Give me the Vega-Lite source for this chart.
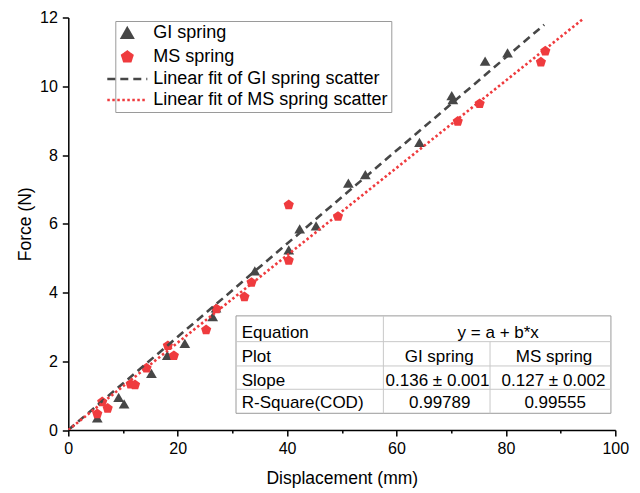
{
  "$schema": "https://vega.github.io/schema/vega-lite/v6.json",
  "width": 547,
  "height": 412.5,
  "autosize": {"type": "none"},
  "padding": {"left": 68.3, "top": 17.5, "right": 24.7, "bottom": 63},
  "config": {
    "font": "Liberation Sans",
    "view": {"stroke": null},
    "axis": {
      "grid": false,
      "domainColor": "black",
      "domainWidth": 1.5,
      "tickColor": "black",
      "tickWidth": 1.5,
      "labelColor": "black",
      "titleColor": "black",
      "labelFont": "Liberation Sans",
      "titleFont": "Liberation Sans",
      "labelFontSize": 16,
      "titleFontSize": 17.5,
      "titleFontWeight": "normal",
      "labelFlush": false
    },
    "text": {"font": "Liberation Sans", "fontSize": 17, "fill": "black"}
  },
  "datasets": {
    "points": [
      {"series": "GI spring", "disp": 5.3, "force": 0.35},
      {"series": "GI spring", "disp": 9.2, "force": 0.95},
      {"series": "GI spring", "disp": 10.2, "force": 0.76},
      {"series": "GI spring", "disp": 15.2, "force": 1.65},
      {"series": "GI spring", "disp": 18.1, "force": 2.17},
      {"series": "GI spring", "disp": 21.3, "force": 2.52},
      {"series": "GI spring", "disp": 26.4, "force": 3.3},
      {"series": "GI spring", "disp": 27.0, "force": 3.55},
      {"series": "GI spring", "disp": 34.1, "force": 4.63},
      {"series": "GI spring", "disp": 40.3, "force": 5.24},
      {"series": "GI spring", "disp": 42.3, "force": 5.85},
      {"series": "GI spring", "disp": 45.3, "force": 5.94},
      {"series": "GI spring", "disp": 51.2, "force": 7.18},
      {"series": "GI spring", "disp": 54.3, "force": 7.43},
      {"series": "GI spring", "disp": 64.2, "force": 8.37},
      {"series": "GI spring", "disp": 70.1, "force": 9.73},
      {"series": "GI spring", "disp": 70.3, "force": 9.61},
      {"series": "GI spring", "disp": 76.2, "force": 10.73},
      {"series": "GI spring", "disp": 80.3, "force": 10.97},
      {"series": "MS spring", "disp": 5.3, "force": 0.47},
      {"series": "MS spring", "disp": 6.2, "force": 0.82},
      {"series": "MS spring", "disp": 7.2, "force": 0.63},
      {"series": "MS spring", "disp": 11.4, "force": 1.33},
      {"series": "MS spring", "disp": 12.2, "force": 1.31},
      {"series": "MS spring", "disp": 14.3, "force": 1.8},
      {"series": "MS spring", "disp": 18.2, "force": 2.45},
      {"series": "MS spring", "disp": 19.3, "force": 2.16},
      {"series": "MS spring", "disp": 25.2, "force": 2.91},
      {"series": "MS spring", "disp": 27.1, "force": 3.52},
      {"series": "MS spring", "disp": 32.2, "force": 3.87},
      {"series": "MS spring", "disp": 33.5, "force": 4.29},
      {"series": "MS spring", "disp": 40.3, "force": 6.55},
      {"series": "MS spring", "disp": 40.3, "force": 4.93},
      {"series": "MS spring", "disp": 49.3, "force": 6.21},
      {"series": "MS spring", "disp": 71.2, "force": 8.98},
      {"series": "MS spring", "disp": 75.2, "force": 9.49},
      {"series": "MS spring", "disp": 86.4, "force": 10.7},
      {"series": "MS spring", "disp": 87.2, "force": 11.02}
    ],
    "fits": [
      {"series": "Linear fit of GI spring scatter", "disp": 0, "force": 0},
      {"series": "Linear fit of GI spring scatter", "disp": 87.0, "force": 11.79},
      {"series": "Linear fit of MS spring scatter", "disp": 0, "force": 0},
      {"series": "Linear fit of MS spring scatter", "disp": 94.2, "force": 11.97}
    ]
  },
  "layer": [
    {
      "data": {"name": "points"},
      "mark": {"type": "point", "filled": true, "opacity": 1, "size": 115},
      "encoding": {
        "x": {
          "field": "disp", "type": "quantitative",
          "scale": {"domain": [0, 100], "nice": false},
          "axis": {
            "title": "Displacement (mm)",
            "values": [0, 10, 20, 30, 40, 50, 60, 70, 80, 90, 100],
            "labelExpr": "datum.value % 20 === 0 ? datum.label : ''",
            "tickSize": {"condition": {"test": "datum.value % 20 === 0", "value": 6}, "value": 3},
            "labelPadding": 4,
            "titlePadding": 13
          }
        },
        "y": {
          "field": "force", "type": "quantitative",
          "scale": {"domain": [0, 12], "nice": false},
          "axis": {
            "title": "Force (N)",
            "values": [0, 1, 2, 3, 4, 5, 6, 7, 8, 9, 10, 11, 12],
            "labelExpr": "datum.value % 2 === 0 ? datum.label : ''",
            "tickSize": {"condition": {"test": "datum.value % 2 === 0", "value": 6}, "value": 3},
            "labelPadding": 5,
            "titlePadding": 5
          }
        },
        "color": {
          "field": "series", "type": "nominal",
          "scale": {
            "domain": ["GI spring", "MS spring", "Linear fit of GI spring scatter", "Linear fit of MS spring scatter"],
            "range": ["#474747", "#ef3b3e", "#474747", "#ef3b3e"]
          },
          "legend": {
            "orient": "none", "legendX": 47, "legendY": 3.5,
            "title": null,
            "labelFontSize": 18, "labelFont": "Liberation Sans", "labelColor": "black",
            "labelLimit": 500,
            "strokeColor": "#9a9a9a", "fillColor": "white",
            "padding": 3, "rowPadding": 3, "labelOffset": 17,
            "symbolSize": 1600,
            "symbolStrokeWidth": 2.5, "symbolOpacity": 1,
            "encode": {
              "symbols": {
                "update": {
                  "size": {"signal": "datum.value === 'Linear fit of GI spring scatter' || datum.value === 'Linear fit of MS spring scatter' ? 1600 : 115"}
                }
              }
            }
          }
        },
        "shape": {
          "field": "series", "type": "nominal",
          "scale": {
            "domain": ["GI spring", "MS spring", "Linear fit of GI spring scatter", "Linear fit of MS spring scatter"],
            "range": ["triangle-up", "M0,-1L0.951,-0.309L0.588,0.809L-0.588,0.809L-0.951,-0.309Z", "stroke", "stroke"]
          }
        }
      }
    },
    {
      "data": {"name": "fits"},
      "mark": {"type": "line", "strokeWidth": 2.6, "clip": true},
      "encoding": {
        "x": {"field": "disp", "type": "quantitative"},
        "y": {"field": "force", "type": "quantitative"},
        "color": {"field": "series", "type": "nominal"},
        "strokeDash": {
          "field": "series", "type": "nominal",
          "scale": {
            "domain": ["GI spring", "MS spring", "Linear fit of GI spring scatter", "Linear fit of MS spring scatter"],
            "range": [[1, 0], [1, 0], [8, 5], [2.5, 2.5]]
          }
        }
      }
    },
    {
      "data": {"values": [{}]},
      "mark": {"type": "rect", "fill": "white", "stroke": "#9a9a9a", "strokeWidth": 1},
      "encoding": {"x": {"datum": 30.66}, "x2": {"datum": 99.2}, "y": {"datum": 3.32}, "y2": {"datum": 0.486}}
    },
    {
      "data": {"values": [{}]},
      "mark": {"type": "rule", "stroke": "#c8c8c8", "strokeWidth": 1},
      "encoding": {"x": {"datum": 30.66}, "x2": {"datum": 99.2}, "y": {"datum": 2.57}}
    },
    {
      "data": {"values": [{}]},
      "mark": {"type": "rule", "stroke": "#c8c8c8", "strokeWidth": 1},
      "encoding": {"x": {"datum": 30.66}, "x2": {"datum": 99.2}, "y": {"datum": 1.863}}
    },
    {
      "data": {"values": [{}]},
      "mark": {"type": "rule", "stroke": "#c8c8c8", "strokeWidth": 1},
      "encoding": {"x": {"datum": 30.66}, "x2": {"datum": 99.2}, "y": {"datum": 1.185}}
    },
    {
      "data": {"values": [{}]},
      "mark": {"type": "rule", "stroke": "#c8c8c8", "strokeWidth": 1},
      "encoding": {"x": {"datum": 57.6}, "y": {"datum": 3.32}, "y2": {"datum": 0.486}}
    },
    {
      "data": {"values": [{}]},
      "mark": {"type": "rule", "stroke": "#c8c8c8", "strokeWidth": 1},
      "encoding": {"x": {"datum": 77.1}, "y": {"datum": 2.57}, "y2": {"datum": 0.486}}
    },
    {
      "data": {"values": [{}]},
      "mark": {"type": "text", "align": "left", "baseline": "middle"},
      "encoding": {"x": {"datum": 31.7}, "y": {"datum": 2.815}, "text": {"value": "Equation"}}
    },
    {
      "data": {"values": [{}]},
      "mark": {"type": "text", "align": "center", "baseline": "middle"},
      "encoding": {"x": {"datum": 78.6}, "y": {"datum": 2.815}, "text": {"value": "y = a + b*x"}}
    },
    {
      "data": {"values": [{}]},
      "mark": {"type": "text", "align": "left", "baseline": "middle"},
      "encoding": {"x": {"datum": 31.7}, "y": {"datum": 2.134}, "text": {"value": "Plot"}}
    },
    {
      "data": {"values": [{}]},
      "mark": {"type": "text", "align": "center", "baseline": "middle"},
      "encoding": {"x": {"datum": 67.8}, "y": {"datum": 2.134}, "text": {"value": "GI spring"}}
    },
    {
      "data": {"values": [{}]},
      "mark": {"type": "text", "align": "center", "baseline": "middle"},
      "encoding": {"x": {"datum": 88.8}, "y": {"datum": 2.134}, "text": {"value": "MS spring"}}
    },
    {
      "data": {"values": [{}]},
      "mark": {"type": "text", "align": "left", "baseline": "middle"},
      "encoding": {"x": {"datum": 31.7}, "y": {"datum": 1.435}, "text": {"value": "Slope"}}
    },
    {
      "data": {"values": [{}]},
      "mark": {"type": "text", "align": "center", "baseline": "middle"},
      "encoding": {"x": {"datum": 67.5}, "y": {"datum": 1.435}, "text": {"value": "0.136 ± 0.001"}}
    },
    {
      "data": {"values": [{}]},
      "mark": {"type": "text", "align": "center", "baseline": "middle"},
      "encoding": {"x": {"datum": 88.7}, "y": {"datum": 1.435}, "text": {"value": "0.127 ± 0.002"}}
    },
    {
      "data": {"values": [{}]},
      "mark": {"type": "text", "align": "left", "baseline": "middle"},
      "encoding": {"x": {"datum": 31.7}, "y": {"datum": 0.777}, "text": {"value": "R-Square(COD)"}}
    },
    {
      "data": {"values": [{}]},
      "mark": {"type": "text", "align": "center", "baseline": "middle"},
      "encoding": {"x": {"datum": 67.9}, "y": {"datum": 0.777}, "text": {"value": "0.99789"}}
    },
    {
      "data": {"values": [{}]},
      "mark": {"type": "text", "align": "center", "baseline": "middle"},
      "encoding": {"x": {"datum": 89.0}, "y": {"datum": 0.777}, "text": {"value": "0.99555"}}
    }
  ]
}
